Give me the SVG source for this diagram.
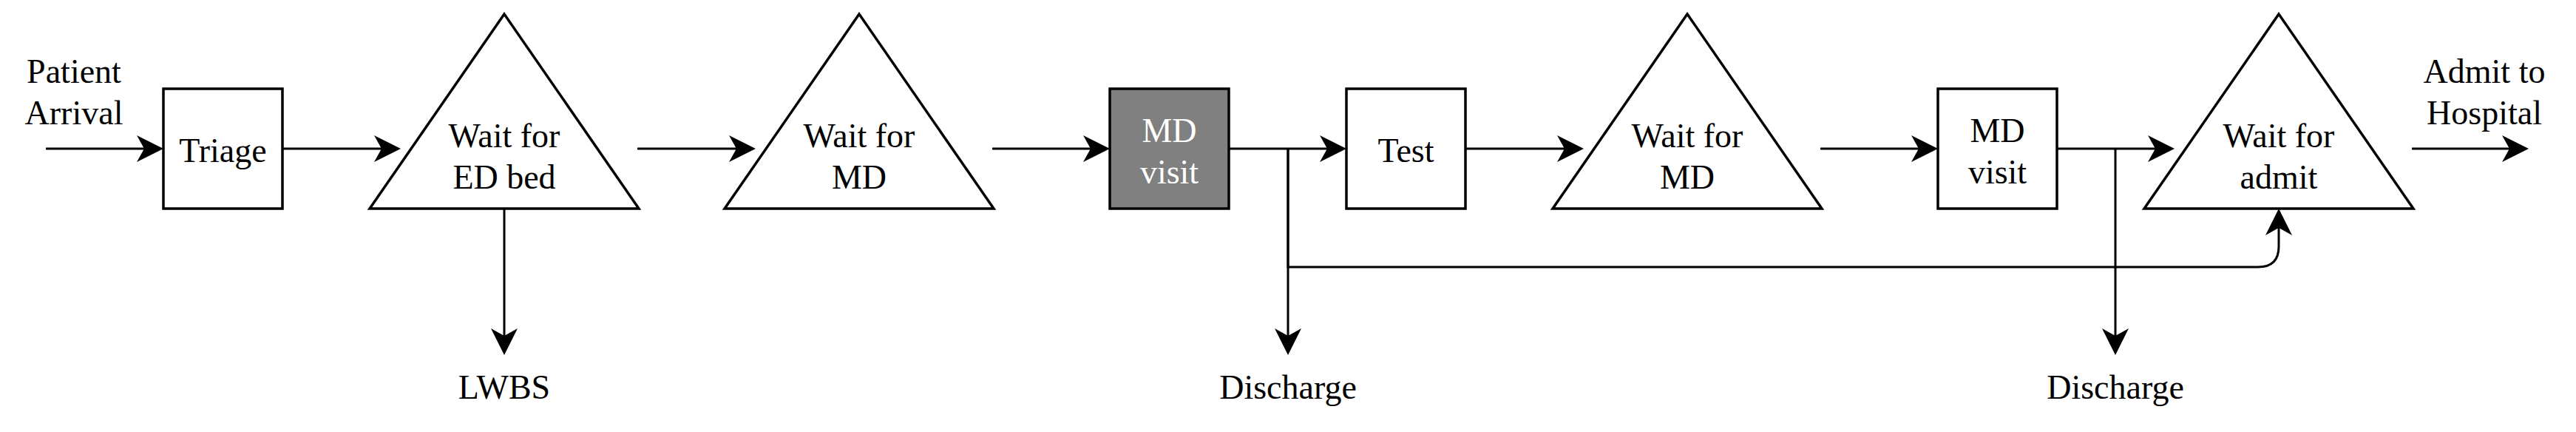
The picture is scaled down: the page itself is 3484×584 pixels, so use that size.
<svg xmlns="http://www.w3.org/2000/svg" width="3484" height="584" viewBox="0 0 3484 584">
<defs>
<style>
.shape{fill:#ffffff;stroke:#000000;stroke-width:3.5;}
.dark{fill:#808080;stroke:#000000;stroke-width:3.5;}
.conn{fill:none;stroke:#000000;stroke-width:3;marker-end:url(#arr);}
.plain{fill:none;stroke:#000000;stroke-width:3;}
text{font-family:"Liberation Serif","Times New Roman",serif;font-size:46px;fill:#000000;text-anchor:middle;}
text.w{fill:#ffffff;}
</style>
<marker id="arr" markerUnits="userSpaceOnUse" markerWidth="40" markerHeight="40" viewBox="-38 -20 40 40" refX="-24" refY="0" orient="auto" overflow="visible">
<path d="M0,0 L-36,-18 L-26,0 L-36,18 Z" fill="#000000" stroke="none"/>
</marker>
</defs>
<rect width="3484" height="584" fill="#ffffff"/>

<g id="connectors">
<path class="conn" d="M62,201 H197"/>
<path class="conn" d="M382,201 H518"/>
<path class="conn" d="M682,282 V456"/>
<path class="conn" d="M862,201 H998"/>
<path class="conn" d="M1342,201 H1477"/>
<path class="conn" d="M1662,201 H1797"/>
<path class="conn" d="M1742,201 V456"/>
<path class="conn" d="M1742,201 V361 H3054 Q3082,361 3082,333 V306"/>
<path class="conn" d="M1982,201 H2118"/>
<path class="conn" d="M2462,201 H2597"/>
<path class="conn" d="M2782,201 H2917"/>
<path class="conn" d="M2861,201 V456"/>
<path class="conn" d="M3262,201 H3396"/>
</g>

<g id="patient-arrival">
<text x="100" y="112">Patient</text>
<text x="100" y="168">Arrival</text>
</g>

<g id="triage">
<rect class="shape" x="221" y="120" width="161" height="162"/>
<text x="301.5" y="219">Triage</text>
</g>

<g id="wait-ed-bed">
<polygon class="shape" points="682,19 500,282 864,282"/>
<text x="682" y="199">Wait for</text>
<text x="682" y="255">ED bed</text>
</g>

<g id="lwbs">
<text x="682" y="539">LWBS</text>
</g>

<g id="wait-md-1">
<polygon class="shape" points="1162,19 980,282 1344,282"/>
<text x="1162" y="199">Wait for</text>
<text x="1162" y="255">MD</text>
</g>

<g id="md-visit-1">
<rect class="dark" x="1501" y="120" width="161" height="162"/>
<text class="w" x="1581.5" y="192">MD</text>
<text class="w" x="1581.5" y="248">visit</text>
</g>

<g id="discharge-1">
<text x="1742" y="539">Discharge</text>
</g>

<g id="test">
<rect class="shape" x="1821" y="120" width="161" height="162"/>
<text x="1901.5" y="219">Test</text>
</g>

<g id="wait-md-2">
<polygon class="shape" points="2282,19 2100,282 2464,282"/>
<text x="2282" y="199">Wait for</text>
<text x="2282" y="255">MD</text>
</g>

<g id="md-visit-2">
<rect class="shape" x="2621" y="120" width="161" height="162"/>
<text x="2701.5" y="192">MD</text>
<text x="2701.5" y="248">visit</text>
</g>

<g id="discharge-2">
<text x="2861" y="539">Discharge</text>
</g>

<g id="wait-admit">
<polygon class="shape" points="3082,19 2900,282 3264,282"/>
<text x="3082" y="199">Wait for</text>
<text x="3082" y="255">admit</text>
</g>

<g id="admit-hospital">
<text x="3360" y="112">Admit to</text>
<text x="3360" y="168">Hospital</text>
</g>
</svg>
